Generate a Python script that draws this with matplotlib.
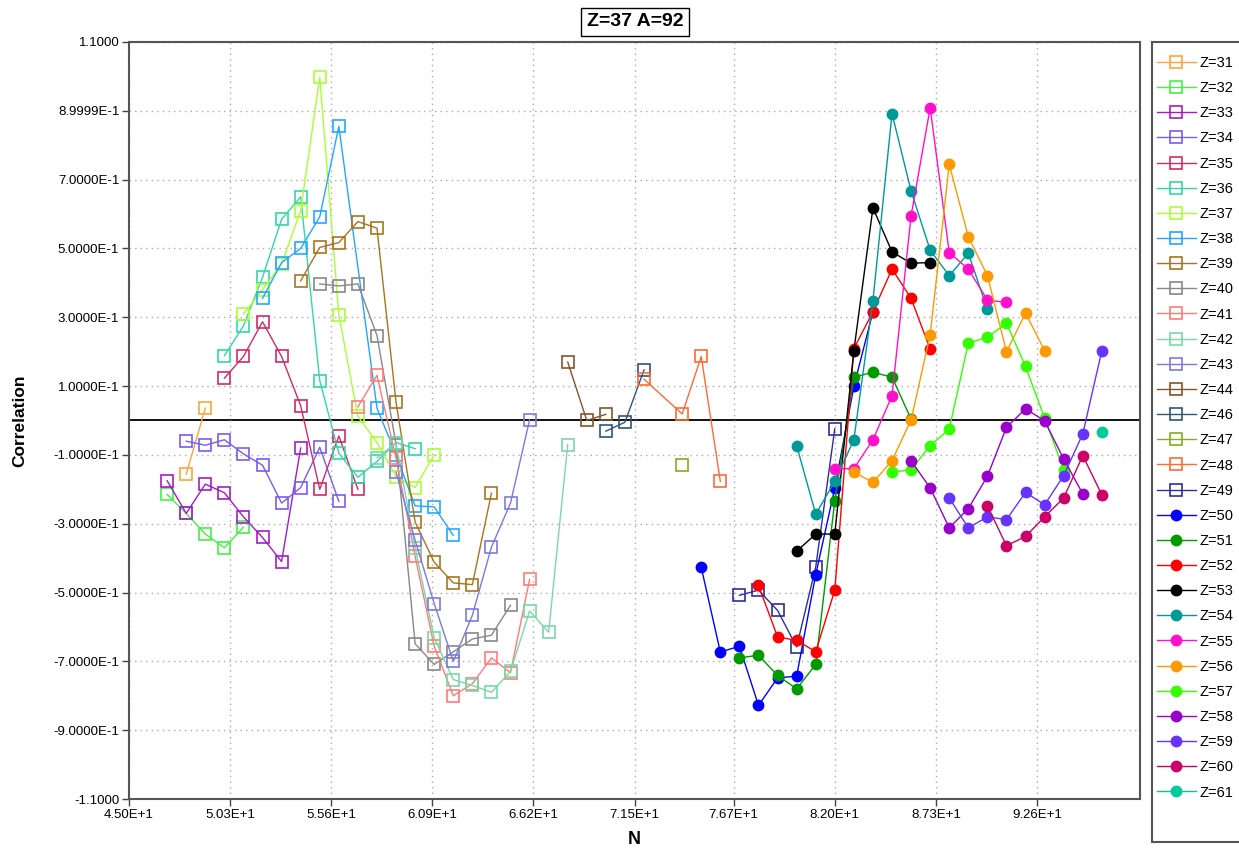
import matplotlib.pyplot as plt
from matplotlib.patches import Rectangle
from matplotlib.ticker import FixedLocator, NullLocator

# Correlation par N, une courbe par Z (Z=37 A=92)
z31_n = [48, 49]
z31_c = [-0.156, 0.036]
z32_n = [47, 48, 49, 50, 51]
z32_c = [-0.215, -0.27, -0.33, -0.37, -0.31]
z33_n = [47, 48, 49, 50, 51, 52, 53, 54]
z33_c = [-0.175, -0.27, -0.185, -0.21, -0.28, -0.34, -0.41, -0.08]
z34_n = [48, 49, 50, 51, 52, 53, 54, 55, 56]
z34_c = [-0.06, -0.072, -0.056, -0.097, -0.13, -0.24, -0.195, -0.078, -0.235]
z35_n = [50, 51, 52, 53, 54, 55, 56, 57]
z35_c = [0.123, 0.186, 0.287, 0.186, 0.043, -0.2, -0.045, -0.2]
z36_n = [50, 51, 52, 53, 54, 55, 56, 57, 58, 59, 60]
z36_c = [0.188, 0.275, 0.416, 0.585, 0.65, 0.116, -0.095, -0.165, -0.119, -0.064, -0.082]
z37_n = [51, 52, 53, 54, 55, 56, 57, 58, 59, 60, 61]
z37_c = [0.309, 0.38, 0.455, 0.61, 0.998, 0.307, 0.012, -0.064, -0.163, -0.195, -0.1]
z38_n = [52, 53, 54, 55, 56, 58, 59, 60, 61, 62]
z38_c = [0.355, 0.459, 0.50, 0.592, 0.855, 0.036, -0.1, -0.248, -0.251, -0.334]
z39_n = [54, 55, 56, 57, 58, 59, 60, 61, 62, 63, 64]
z39_c = [0.406, 0.503, 0.517, 0.578, 0.559, 0.053, -0.295, -0.412, -0.472, -0.477, -0.211]
z40_n = [55, 56, 57, 58, 59, 60, 61, 62, 63, 64, 65]
z40_c = [0.397, 0.391, 0.397, 0.247, -0.07, -0.649, -0.709, -0.672, -0.635, -0.624, -0.537]
z41_n = [57, 58, 59, 60, 61, 62, 63, 64, 65, 66]
z41_c = [0.04, 0.131, -0.11, -0.395, -0.656, -0.80, -0.765, -0.69, -0.733, -0.462]
z42_n = [58, 59, 60, 61, 62, 63, 64, 65, 66, 67, 68]
z42_c = [-0.108, -0.066, -0.37, -0.632, -0.753, -0.77, -0.79, -0.729, -0.554, -0.615, -0.07]
z43_n = [59, 60, 61, 62, 63, 64, 65, 66]
z43_c = [-0.15, -0.348, -0.532, -0.70, -0.566, -0.368, -0.24, 0.002]
z44_n = [68, 69, 70]
z44_c = [0.17, 0.0, 0.018]
z46_n = [70, 71, 72]
z46_c = [-0.031, -0.005, 0.147]
z47_n = [74]
z47_c = [-0.13]
z48_n = [72, 74, 75, 76]
z48_c = [0.12, 0.019, 0.186, -0.177]
z49_n = [77, 78, 79, 80, 81, 82]
z49_c = [-0.508, -0.493, -0.552, -0.658, -0.426, -0.024]
z50_n = [75, 76, 77, 78, 79, 80, 81, 82, 83, 84]
z50_c = [-0.427, -0.673, -0.656, -0.828, -0.748, -0.743, -0.448, -0.196, 0.099, 0.316]
z51_n = [77, 78, 79, 80, 81, 82, 83, 84, 85, 86]
z51_c = [-0.69, -0.682, -0.741, -0.78, -0.709, -0.233, 0.126, 0.14, 0.126, 0.004]
z52_n = [78, 79, 80, 81, 82, 83, 84, 85, 86, 87]
z52_c = [-0.479, -0.629, -0.639, -0.672, -0.493, 0.209, 0.316, 0.44, 0.355, 0.207]
z53_n = [80, 81, 82, 83, 84, 85, 86, 87]
z53_c = [-0.38, -0.33, -0.33, 0.203, 0.618, 0.49, 0.457, 0.459]
z54_n = [80, 81, 82, 83, 84, 85, 86, 87, 88, 89, 90]
z54_c = [-0.073, -0.272, -0.177, -0.056, 0.348, 0.892, 0.667, 0.495, 0.421, 0.486, 0.323]
z55_n = [82, 83, 84, 85, 86, 87, 88, 89, 90, 91]
z55_c = [-0.14, -0.14, -0.056, 0.072, 0.595, 0.909, 0.488, 0.44, 0.35, 0.343]
z56_n = [83, 84, 85, 86, 87, 88, 89, 90, 91, 92, 93]
z56_c = [-0.15, -0.18, -0.117, 0.002, 0.249, 0.744, 0.534, 0.421, 0.2, 0.312, 0.203]
z57_n = [85, 86, 87, 88, 89, 90, 91, 92, 93, 94]
z57_c = [-0.15, -0.143, -0.073, -0.025, 0.225, 0.242, 0.283, 0.157, 0.007, -0.143]
z58_n = [86, 87, 88, 89, 90, 91, 92, 93, 94, 95]
z58_c = [-0.117, -0.196, -0.312, -0.256, -0.162, -0.02, 0.034, -0.001, -0.112, -0.213]
z59_n = [88, 89, 90, 91, 92, 93, 94, 95, 96]
z59_c = [-0.225, -0.312, -0.28, -0.288, -0.209, -0.245, -0.16, -0.039, 0.203]
z60_n = [90, 91, 92, 93, 94, 95, 96]
z60_c = [-0.248, -0.364, -0.337, -0.28, -0.225, -0.102, -0.216]
z61_n = [96]
z61_c = [-0.032]

labels = ["Z=31", "Z=32", "Z=33", "Z=34", "Z=35", "Z=36", "Z=37", "Z=38", "Z=39", "Z=40",
          "Z=41", "Z=42", "Z=43", "Z=44", "Z=46", "Z=47", "Z=48", "Z=49", "Z=50", "Z=51",
          "Z=52", "Z=53", "Z=54", "Z=55", "Z=56", "Z=57", "Z=58", "Z=59", "Z=60", "Z=61"]
colors = ["#ffa53a", "#44f044", "#a41cc8", "#7a5cf0", "#d02a6a", "#30d8a8", "#aaff33", "#20a8ff",
          "#a8741e", "#888888", "#ff7a7a", "#7ad8a8", "#7a7ae0", "#86552a", "#2f557a", "#88aa22",
          "#ff6a33", "#2e2e9a", "#0000ff", "#009900", "#ff0000", "#000000", "#009999", "#ff11cc",
          "#ff9900", "#33ff00", "#9900cc", "#6633ff", "#cc0066", "#00cc99"]
xs = [z31_n, z32_n, z33_n, z34_n, z35_n, z36_n, z37_n, z38_n, z39_n, z40_n,
      z41_n, z42_n, z43_n, z44_n, z46_n, z47_n, z48_n, z49_n, z50_n, z51_n,
      z52_n, z53_n, z54_n, z55_n, z56_n, z57_n, z58_n, z59_n, z60_n, z61_n]
ys = [z31_c, z32_c, z33_c, z34_c, z35_c, z36_c, z37_c, z38_c, z39_c, z40_c,
      z41_c, z42_c, z43_c, z44_c, z46_c, z47_c, z48_c, z49_c, z50_c, z51_c,
      z52_c, z53_c, z54_c, z55_c, z56_c, z57_c, z58_c, z59_c, z60_c, z61_c]

xticks = [45.0, 50.3, 55.6, 60.9, 66.2, 71.5, 76.7, 82.0, 87.3, 92.6]
xtick_labels = ["4.50E+1", "5.03E+1", "5.56E+1", "6.09E+1", "6.62E+1", "7.15E+1",
                "7.67E+1", "8.20E+1", "8.73E+1", "9.26E+1"]
yticks = [1.1, 0.9, 0.7, 0.5, 0.3, 0.1, -0.1, -0.3, -0.5, -0.7, -0.9, -1.1]
ytick_labels = ["1.1000", "8.9999E-1", "7.0000E-1", "5.0000E-1", "3.0000E-1", "1.0000E-1",
                "-1.0000E-1", "-3.0000E-1", "-5.0000E-1", "-7.0000E-1", "-9.0000E-1", "-1.1000"]

plt.rcParams['font.family'] = ['Liberation Sans', 'DejaVu Sans']

W, H = 1239, 850
fig = plt.figure(figsize=(W/100, H/100), dpi=100)
ax = fig.add_axes([129/W, 1 - 799/H, (1140 - 129)/W, (799 - 42)/H])

handles = []
for i in range(len(labels)):
    if i >= 18:
        h, = ax.plot(xs[i], ys[i], color=colors[i], lw=1.0, marker='o', markersize=7.5,
                     markerfacecolor=colors[i], markeredgecolor=colors[i], label=labels[i])
    else:
        h, = ax.plot(xs[i], ys[i], color=colors[i], lw=1.0, marker='s', markersize=8.5,
                     markerfacecolor='none', markeredgecolor=colors[i], markeredgewidth=1.2,
                     label=labels[i])
    handles.append(h)

ax.axhline(0, color='black', lw=1.3, zorder=1)

ax.set_xlim(45, 98)
ax.set_ylim(-1.1, 1.1)
ax.xaxis.set_major_locator(FixedLocator(xticks))
ax.set_xticklabels(xtick_labels)
ax.yaxis.set_major_locator(FixedLocator(yticks))
ax.set_yticklabels(ytick_labels)
ax.xaxis.set_minor_locator(NullLocator())
ax.tick_params(labelsize=9.5, length=5, width=1, color='#444444', direction='out', pad=2)
ax.grid(True, color='#aaaaaa', linestyle=(0, (1, 3)), lw=1.0)
for s in ax.spines.values():
    s.set_color('#555555')
    s.set_linewidth(1.5)

ax.set_xlabel("N", fontsize=13, fontweight='bold')
ax.xaxis.set_label_coords(0.5, -(831 - 799)/757)
ax.set_ylabel("Correlation", fontsize=12.5, fontweight='bold')
ax.yaxis.set_label_coords((27 - 129)/1011, 0.5)

fig.text(635/W, 1 - 22/H, "Z=37 A=92", ha='center', va='center', fontsize=14, fontweight='bold',
         bbox=dict(boxstyle='square,pad=0.3', facecolor='white', edgecolor='black', lw=1))

# cadre de la légende (coupé à droite comme dans l'original)
fig.patches.append(Rectangle((1152/W, 1 - 842/H), 120/W, 800/H, transform=fig.transFigure,
                             facecolor='white', edgecolor='#555555', lw=1.5, zorder=0))
fig.legend(handles=handles, loc='upper left', bbox_to_anchor=(1157/W, 1 - 56/H),
           fontsize=10.5, frameon=False, labelspacing=0.765, handlelength=2.67,
           handletextpad=0.27, borderpad=0, borderaxespad=0)

fig.savefig("out.png", dpi=100)
